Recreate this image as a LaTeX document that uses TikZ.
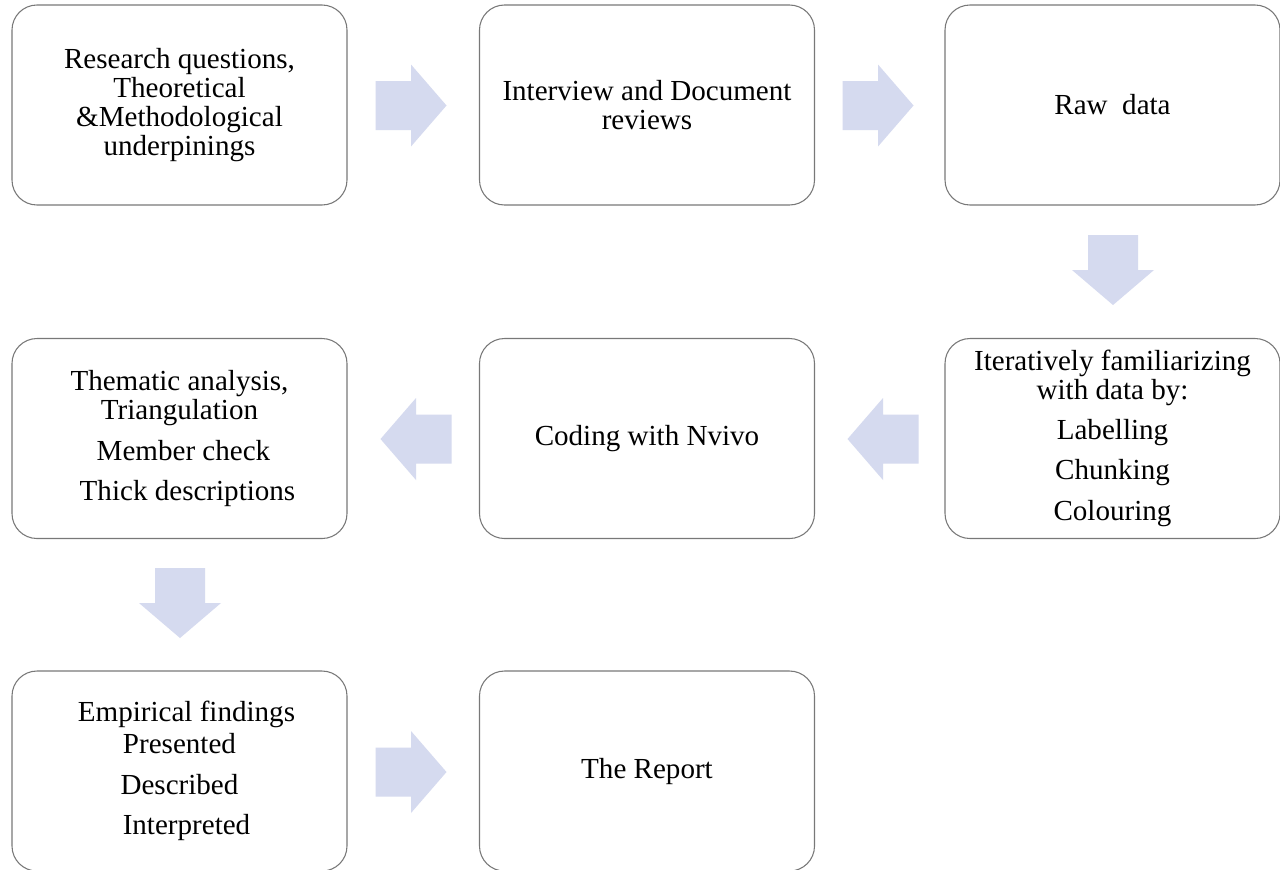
\documentclass[tikz,border=0pt]{standalone}
\usepackage{fontspec}
\setmainfont{Liberation Serif}
\definecolor{arrfill}{RGB}{213,218,239}
\definecolor{boxline}{RGB}{120,120,120}
\newcommand{\RightBlock}[2]{\fill[blockarr] (#1-35.5,#2-24.5) -- (#1,#2-24.5) -- (#1,#2-41) -- (#1+35.5,#2) -- (#1,#2+41) -- (#1,#2+24.5) -- (#1-35.5,#2+24.5) -- cycle;}
\newcommand{\LeftBlock}[2]{\fill[blockarr] (#1+35.5,#2-24.5) -- (#1,#2-24.5) -- (#1,#2-41) -- (#1-35.5,#2) -- (#1,#2+41) -- (#1,#2+24.5) -- (#1+35.5,#2+24.5) -- cycle;}
\newcommand{\DownBlock}[2]{\fill[blockarr] (#1-25,#2-35) -- (#1+25,#2-35) -- (#1+25,#2) -- (#1+41,#2) -- (#1,#2+35) -- (#1-41,#2) -- (#1-25,#2) -- cycle;}
\begin{document}
\begin{tikzpicture}[x=0.75pt,y=-0.75pt,
  stage/.style={draw=boxline, line width=0.8pt, rounded corners=18.75pt,
    minimum width=251.25pt, minimum height=150pt, align=center, inner sep=0pt,
    font=\fontsize{21.8}{21.75}\selectfont},
  blockarr/.style={fill=arrfill, draw=none}]
\useasboundingbox (0,0) rectangle (1280,869);
\fill[white] (0,0) rectangle (1280,869);
% boxes
\node[stage] (b1) at (179.5,105) {Research questions,\\Theoretical\\\&Methodological\\underpinings};
\node[stage] (b2) at (647,105) {Interview and Document\\reviews};
\node[stage] (b3) at (1112.5,105) {Raw\ \ data};
\node[stage] (b6) at (1112.5,438.5) {Iteratively familiarizing\\with data by:\\[8pt]Labelling\\[8.5pt]Chunking\\[8.5pt]Colouring};
\node[stage] (b5) at (647,438.5) {Coding with Nvivo};
\node[stage] (b4) at (179.5,438.5) {Thematic analysis,\\Triangulation\\[9pt]\hspace*{6pt}Member check\\[8.5pt]\hspace*{12pt}Thick descriptions};
\node[stage] (b7) at (179.5,771) {\hspace*{10.5pt}Empirical findings\\[2pt]Presented\\[9pt]Described\\[8.5pt]\hspace*{10.5pt}Interpreted};
\node[stage] (b8) at (647,771) {The Report};
% block arrows
\RightBlock{411}{105.5}
\RightBlock{878}{105.5}
\DownBlock{1113}{270}
\LeftBlock{883}{439}
\LeftBlock{416}{439}
\DownBlock{180}{603}
\RightBlock{411}{772}
\end{tikzpicture}
\end{document}
